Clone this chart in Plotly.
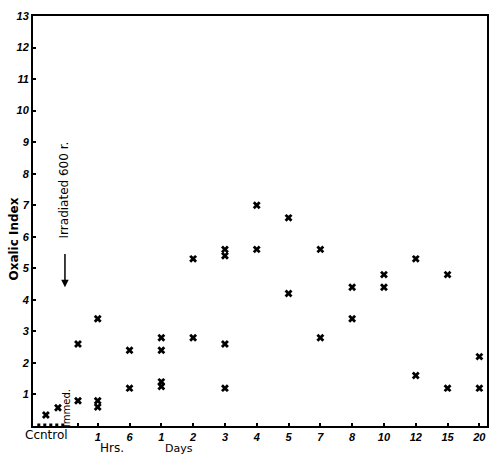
import plotly.graph_objects as go

# Category positions on the x axis (1 = 1 hr ... 13 = 20 days)
control_pos = [-0.63, -0.25]
immed_pos = 0.38
tick_positions = [1, 2, 3, 4, 5, 6, 7, 8, 9, 10, 11, 12, 13]
tick_labels = ["1", "6", "1", "2", "3", "4", "5", "7", "8", "10", "12", "15", "20"]

# Oxalic index values
control_values = [0.35, 0.58]
immed_values = [0.8, 2.6]
series_values = {
    1: [3.4, 0.8, 0.6],      # 1 hr
    2: [2.4, 1.2],           # 6 hr
    3: [2.8, 2.4, 1.4, 1.25],  # 1 day
    4: [5.3, 2.8],           # 2 days
    5: [5.6, 5.4, 2.6, 1.2],  # 3 days
    6: [7.0, 5.6],           # 4 days
    7: [6.6, 4.2],           # 5 days
    8: [5.6, 2.8],           # 7 days
    9: [4.4, 3.4],           # 8 days
    10: [4.8, 4.4],          # 10 days
    11: [5.3, 1.6],          # 12 days
    12: [4.8, 1.2],          # 15 days
    13: [2.2, 1.2],          # 20 days
}
y_tick_vals = list(range(1, 14))
y_tick_text = [str(v) for v in range(1, 13)] + ["13"]

xs, ys = [], []
for p, v in zip(control_pos, control_values):
    xs.append(p); ys.append(v)
for v in immed_values:
    xs.append(immed_pos); ys.append(v)
for p, vals in series_values.items():
    for v in vals:
        xs.append(p); ys.append(v)

fig = go.Figure()
fig.add_trace(go.Scatter(
    x=xs, y=ys, mode="markers",
    marker=dict(symbol="x", size=7, color="black", line=dict(width=0)),
    showlegend=False, hoverinfo="skip",
))

label_font = dict(family="DejaVu Sans", size=12, color="black")
tick_font = dict(family="Liberation Sans", size=11, color="black", style="italic", weight="bold")

fig.update_layout(
    width=500, height=456,
    margin=dict(l=33, r=13, t=10, b=30),
    paper_bgcolor="white", plot_bgcolor="white",
    xaxis=dict(
        range=[-1.035, 13.24], showgrid=False, zeroline=False,
        tickmode="array", tickvals=[immed_pos] + tick_positions,
        ticktext=[""] + tick_labels,
        ticks="inside", ticklen=3, tickwidth=1.5, tickcolor="black",
        tickfont=tick_font,
        showline=True, linecolor="black", linewidth=2, mirror=True,
    ),
    yaxis=dict(
        range=[0, 13], showgrid=False, zeroline=False,
        tickmode="array", tickvals=y_tick_vals, ticktext=y_tick_text,
        ticks="inside", ticklen=3, tickwidth=1.5, tickcolor="black",
        tickfont=tick_font,
        showline=True, linecolor="black", linewidth=2, mirror=True,
    ),
)

# control dashes along the axis
fig.add_shape(type="line", xref="x", yref="y", x0=-0.9, x1=-0.05, y0=0.03, y1=0.03,
              line=dict(color="black", width=3, dash="dot"))

# annotations
fig.add_annotation(xref="paper", yref="paper", x=-0.042, y=0.457, text="Oxalic Index",
                   showarrow=False, textangle=-90,
                   font=dict(family="DejaVu Sans", size=12, color="black", weight="bold"),
                   xanchor="center", yanchor="middle")
fig.add_annotation(xref="x", yref="y", x=-0.03, y=7.5, text="Irradiated 600 r.",
                   showarrow=False, textangle=-90, font=label_font,
                   xanchor="center", yanchor="middle")
fig.add_annotation(xref="x", yref="y", x=-0.03, y=4.4, ax=-0.03, ay=5.5,
                   axref="x", ayref="y", text="", showarrow=True,
                   arrowhead=2, arrowsize=1, arrowwidth=1.5, arrowcolor="black")
fig.add_annotation(xref="x", yref="y", x=0.02, y=0.55, text="Immed.",
                   showarrow=False, textangle=-90,
                   font=dict(family="DejaVu Sans", size=10, color="black"),
                   xanchor="center", yanchor="middle")
fig.add_annotation(xref="x", yref="paper", x=-0.62, y=-0.0216, text="Ccntrol",
                   showarrow=False, font=label_font, xanchor="center", yanchor="middle")
fig.add_annotation(xref="x", yref="paper", x=1.45, y=-0.053, text="Hrs.",
                   showarrow=False, font=label_font, xanchor="center", yanchor="middle")
fig.add_annotation(xref="x", yref="paper", x=3.55, y=-0.056, text="Days",
                   showarrow=False, font=dict(family="DejaVu Sans", size=11, color="black"),
                   xanchor="center", yanchor="middle")

fig.write_html("out.html")
